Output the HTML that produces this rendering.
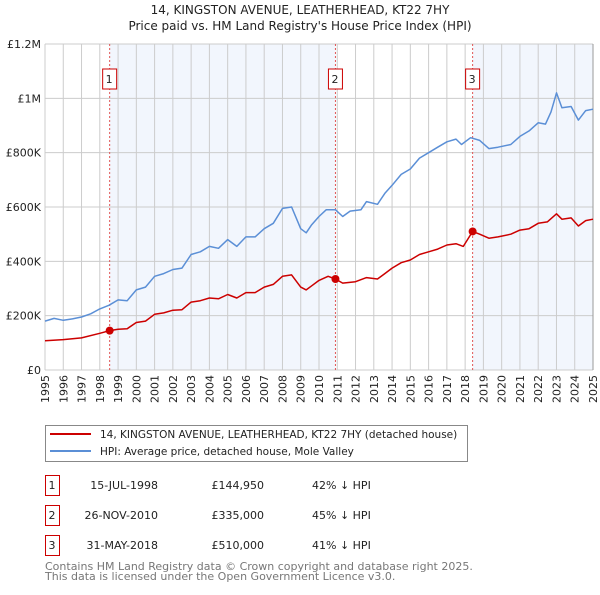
<!DOCTYPE html>
<html><head><meta charset="utf-8"><style>
body{margin:0;background:#fff;font-family:"Liberation Sans","DejaVu Sans",sans-serif}
svg text{font-family:"DejaVu Sans","Liberation Sans",sans-serif}
</style></head><body>
<svg id="c" width="600" height="590" xmlns="http://www.w3.org/2000/svg">
<text x="300" y="14" text-anchor="middle" font-size="12" fill="#222">14, KINGSTON AVENUE, LEATHERHEAD, KT22 7HY</text>
<text x="300" y="30" text-anchor="middle" font-size="12" fill="#222">Price paid vs. HM Land Registry's House Price Index (HPI)</text>
</svg>
<script>
const years=[1995,1996,1997,1998,1999,2000,2001,2002,2003,2004,2005,2006,2007,2008,2009,2010,2011,2012,2013,2014,2015,2016,2017,2018,2019,2020,2021,2022,2023,2024,2025];
const yTicks=[0,200000,400000,600000,800000,1000000,1200000];
const yTickLabels=["£0","£200K","£400K","£600K","£800K","£1M","£1.2M"];
const hpiT=[1995,1995.5,1996,1996.5,1997,1997.5,1998,1998.5,1999,1999.5,2000,2000.5,2001,2001.5,2002,2002.5,2003,2003.5,2004,2004.5,2005,2005.5,2006,2006.5,2007,2007.5,2008,2008.5,2009,2009.3,2009.6,2010,2010.4,2010.9,2011.3,2011.7,2012.3,2012.6,2013.2,2013.6,2014,2014.5,2015,2015.5,2016,2016.5,2017,2017.5,2017.8,2018.3,2018.8,2019.3,2019.8,2020.5,2021,2021.5,2022,2022.4,2022.7,2023,2023.3,2023.8,2024.2,2024.6,2025];
const hpiV=[180,190,183,188,195,207,225,238,258,255,295,305,345,355,370,375,425,435,455,448,480,455,490,490,520,540,595,600,520,505,535,565,590,590,565,585,590,620,610,650,680,720,740,780,800,820,840,850,830,855,845,815,820,830,860,880,910,905,950,1020,965,970,920,955,960];
const ppT=[1995,1996,1997,1998,1998.54,1999,1999.5,2000,2000.5,2001,2001.5,2002,2002.5,2003,2003.5,2004,2004.5,2005,2005.5,2006,2006.5,2007,2007.5,2008,2008.5,2009,2009.3,2009.6,2010,2010.5,2010.9,2011.3,2012,2012.6,2013.2,2013.6,2014,2014.5,2015,2015.5,2016,2016.5,2017,2017.5,2017.9,2018.41,2018.8,2019.3,2019.8,2020.5,2021,2021.5,2022,2022.5,2023,2023.3,2023.8,2024.2,2024.6,2025];
const ppV=[108,112,118,135,145,150,152,175,180,205,210,220,222,250,255,265,262,278,265,285,285,305,315,345,350,305,295,310,330,345,335,320,325,340,335,355,375,395,405,425,435,445,460,465,455,510,500,485,490,500,515,520,540,545,575,555,560,530,550,555];
const saleT=[1998.54,2010.9,2018.41];
const saleV=[144950,335000,510000];
const saleLabels=["1","2","3"];
const saleDates=["15-JUL-1998","26-NOV-2010","31-MAY-2018"];
const salePrices=["£144,950","£335,000","£510,000"];
const salePct=["42% ↓ HPI","45% ↓ HPI","41% ↓ HPI"];

const X0=45,X1=593,Y0=370,Y1=44;
const xs=t=>X0+(t-1995)/30*(X1-X0);
const ys=v=>Y0-v/1200000*(Y0-Y1);
const svg=document.getElementById('c');
const NS='http://www.w3.org/2000/svg';
function mk(tag,a,parent){const e=document.createElementNS(NS,tag);for(const k in a)e.setAttribute(k,a[k]);(parent||svg).appendChild(e);return e;}

mk('rect',{x:X0,y:Y1,width:X1-X0,height:Y0-Y1,fill:'#fff'});
let s1=mk('rect',{x:xs(saleT[0]),y:Y1,width:xs(saleT[1])-xs(saleT[0]),height:Y0-Y1,fill:'#f2f6fd'});


let s2=mk('rect',{x:xs(saleT[2]),y:Y1,width:X1-xs(saleT[2]),height:Y0-Y1,fill:'#f2f6fd'});



years.forEach(y=>{
  const x=xs(y);
  let g=mk('line',{x1:x,x2:x,y1:Y1,y2:Y0,stroke:'#ccc','stroke-width':1});
  
  
  let t=mk('text',{x:0,y:0,transform:`translate(${x+4},${Y0+5}) rotate(-90)`,'text-anchor':'end','font-size':11,fill:'#222'});
  t.textContent=y;
  
  
});
yTicks.forEach((v,i)=>{
  const y=ys(v);
  let g=mk('line',{x1:X0,x2:X1,y1:y,y2:y,stroke:'#ccc','stroke-width':1});
  
  
  let t=mk('text',{x:X0-4,y:y+4,'text-anchor':'end','font-size':11,fill:'#222'});
  t.textContent=yTickLabels[i];
  
  
});
mk('line',{x1:X1,x2:X1,y1:Y1,y2:Y0,stroke:'#999','stroke-width':1});

saleT.forEach((t,i)=>{
  const x=xs(t);
  let l=mk('line',{x1:x,x2:x,y1:Y1,y2:Y0,stroke:'#e05555','stroke-width':1,'stroke-dasharray':'2,2'});
  
  
  let b=mk('rect',{x:x-7,y:69,width:14,height:20,fill:'#fff',stroke:'#c00','stroke-width':1});
  
  
  let tx=mk('text',{x:x-0.5,y:83,'text-anchor':'middle','font-size':11,fill:'#222'});
  tx.textContent=saleLabels[i];
  
  
});

function line(T,V,color,name){
  const d=T.map((t,i)=>(i?'L':'M')+xs(t).toFixed(1)+','+ys(V[i]*1000).toFixed(1)).join('');
  let p=mk('path',{d:d,fill:'none',stroke:color,'stroke-width':1.5,'stroke-linejoin':'round'});
  
  
}
line(hpiT,hpiV,'#5b8fd6','hpi-line');
line(ppT,ppV,'#cc0000','price-paid-line');
saleT.forEach((t,i)=>{
  let c=mk('circle',{cx:xs(t),cy:ys(saleV[i]),r:4,fill:'#cc0000'});
  
  
});

let lg=mk('rect',{x:45.5,y:425.5,width:422,height:36,fill:'#fff',stroke:'#888','stroke-width':1});


mk('line',{x1:50,x2:91,y1:434,y2:434,stroke:'#cc0000','stroke-width':2});
mk('line',{x1:50,x2:91,y1:451,y2:451,stroke:'#5b8fd6','stroke-width':2});
let l1=mk('text',{x:100,y:438,'font-size':10.5,fill:'#222'});
l1.textContent='14, KINGSTON AVENUE, LEATHERHEAD, KT22 7HY (detached house)';


let l2=mk('text',{x:100,y:455,'font-size':10.5,fill:'#222'});
l2.textContent='HPI: Average price, detached house, Mole Valley';



saleT.forEach((t,i)=>{
  const y=475+i*30;
  let b=mk('rect',{x:45.5,y:y+0.5,width:14,height:20,fill:'#fff',stroke:'#c00','stroke-width':1});
  
  
  const cells=[[52,'middle',saleLabels[i]],[158,'end',saleDates[i]],[264,'end',salePrices[i]],[312,'start',salePct[i]]];
  cells.forEach(c=>{
    let tx=mk('text',{x:c[0],y:y+14,'text-anchor':c[1],'font-size':11,fill:'#222'});
    tx.textContent=c[2];
    
    
  });
});
let f1=mk('text',{x:45,y:570,'font-size':11,fill:'#777'});
f1.textContent='Contains HM Land Registry data © Crown copyright and database right 2025.';


let f2=mk('text',{x:45,y:580,'font-size':11,fill:'#777'});
f2.textContent='This data is licensed under the Open Government Licence v3.0.';


</script>
</body></html>
